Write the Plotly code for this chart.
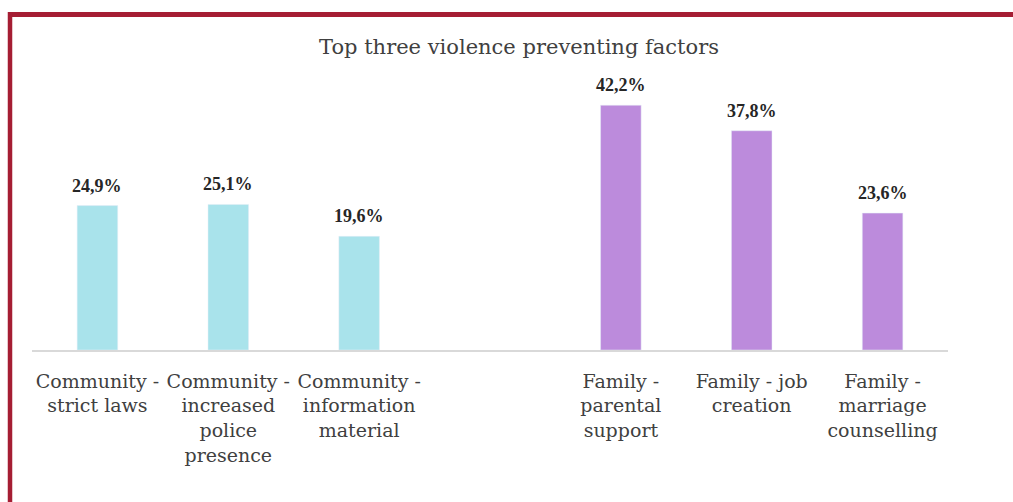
import plotly.graph_objects as go

categories = [
    "Community -<br>strict laws",
    "Community -<br>increased<br>police<br>presence",
    "Community -<br>information<br>material",
    " ",
    "Family -<br>parental<br>support",
    "Family - job<br>creation",
    "Family -<br>marriage<br>counselling",
]
community_cats = categories[0:3]
community_vals = [24.9, 25.1, 19.6]
family_cats = categories[4:7]
family_vals = [42.2, 37.8, 23.6]

W, H = 1013, 502
ml, mr, mt, mb = 32, 65, 89, 152
pw, ph = W - ml - mr, H - mt - mb

def px_x(x):
    return (x - ml) / pw

def px_y(y):
    return (H - mb - y) / ph

fig = go.Figure()
fig.add_trace(go.Bar(x=community_cats, y=community_vals, marker_color="#A9E3EB"))
fig.add_trace(go.Bar(x=family_cats, y=family_vals, marker_color="#BC8BDC"))

for cats, vals in ((community_cats, community_vals), (family_cats, family_vals)):
    for c, v in zip(cats, vals):
        fig.add_annotation(
            x=c, y=v, text=f"{v:.1f}%".replace(".", ","), showarrow=False,
            yanchor="bottom", yshift=8,
            font=dict(family="Liberation Serif", size=18, color="#262626", weight="bold"),
        )

fig.update_layout(
    width=W, height=H,
    margin=dict(l=ml, r=mr, t=mt, b=mb),
    paper_bgcolor="white", plot_bgcolor="white",
    barmode="overlay",
    bargap=0.69,
    showlegend=False,
    title=dict(text="Top three violence preventing factors", x=519 / W, xanchor="center",
               y=1 - 47 / H, yanchor="middle",
               font=dict(family="DejaVu Serif", size=21, color="#404040")),
    xaxis=dict(type="category", categoryorder="array", categoryarray=categories,
               showline=True, linecolor="#D9D9D9", linewidth=1.5,
               ticks="outside", ticklen=13, tickcolor="rgba(0,0,0,0)",
               tickfont=dict(family="DejaVu Serif", size=19, color="#404040"),
               showgrid=False, fixedrange=True),
    yaxis=dict(range=[0, 45], visible=False, showgrid=False, fixedrange=True),
)

border = "#A51D33"
fig.add_shape(type="line", xref="paper", yref="paper",
              x0=px_x(8), x1=px_x(W + 5), y0=px_y(14.5), y1=px_y(14.5),
              line=dict(color=border, width=5))
fig.add_shape(type="line", xref="paper", yref="paper",
              x0=px_x(10), x1=px_x(10), y0=px_y(12), y1=px_y(H + 5),
              line=dict(color=border, width=4.5))

fig.write_html("out.html")
